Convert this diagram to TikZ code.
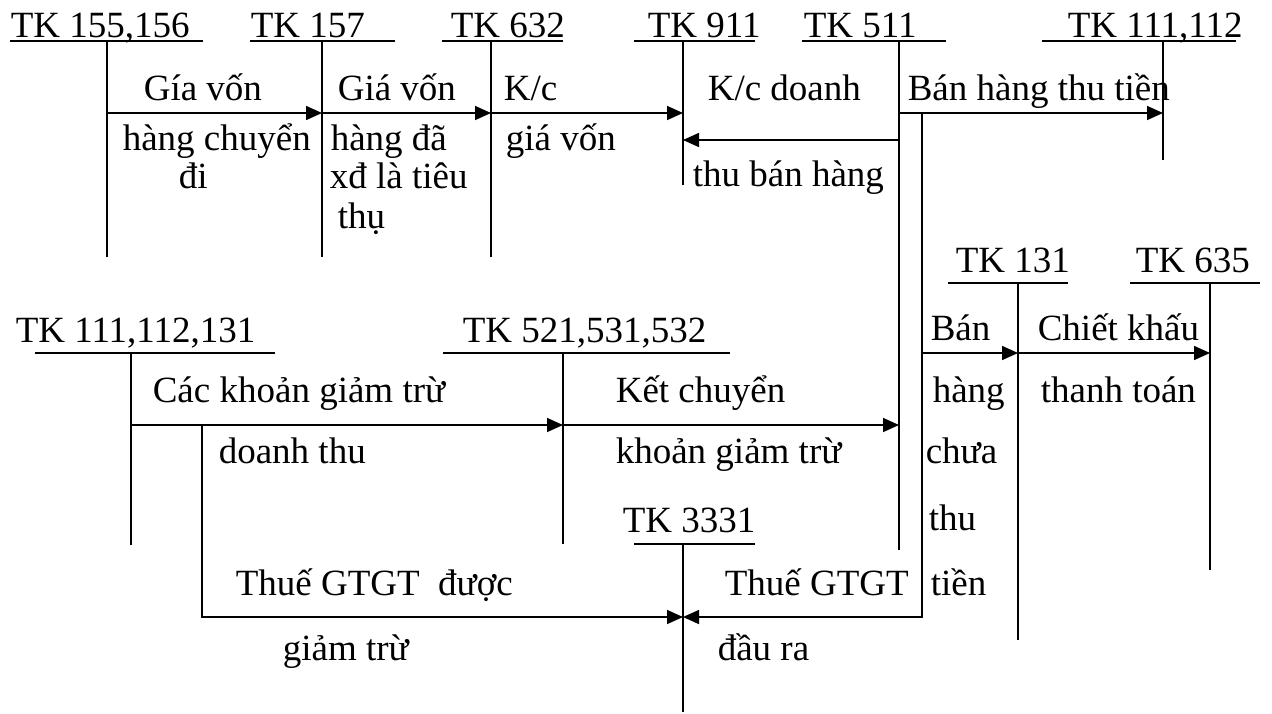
\documentclass[tikz,border=0pt]{standalone}
\usepackage{fontspec}
\setmainfont{Liberation Serif}
\usetikzlibrary{arrows.meta}

\begin{document}
\begin{tikzpicture}[x=0.5pt,y=-0.5pt,line width=0.8pt,
  lbl/.style={anchor=base west,inner sep=0pt,font=\fontsize{18.5}{20}\selectfont},
  flow/.style={-{Triangle[length=8pt,width=7pt]}}]

\useasboundingbox (0,0) rectangle (1272,713);

% Account titles (top row)
\node[lbl] (tk155) at (10,37) {TK 155,156};
\node[lbl] (tk157) at (250,37) {TK 157};
\node[lbl] (tk632) at (450,37) {TK 632};
\node[lbl] (tk911) at (647,37) {TK 911};
\node[lbl] (tk511) at (803,37) {TK 511};
\node[lbl] (tk111) at (1067,37) {TK 111,112};

% Account titles (lower rows)
\node[lbl] (tk131) at (955,272) {TK 131};
\node[lbl] (tk635) at (1135,272) {TK 635};
\node[lbl] (tkgt) at (15,342) {TK 111,112,131};
\node[lbl] (tk521) at (462,342) {TK 521,531,532};
\node[lbl] (tk3331) at (622,532) {TK 3331};

% T accounts: underline and vertical
\draw (10,41) -- (203,41);    \draw (107,41) -- (107,257);
\draw (250,41) -- (395,41);   \draw (322,41) -- (322,257);
\draw (442,41) -- (563,41);   \draw (491,41) -- (491,257);
\draw (634,41) -- (755,41);   \draw (683,41) -- (683,185);
\draw (802,41) -- (946,41);   \draw (899,41) -- (899,550);
\draw (1042,41) -- (1236,41); \draw (1163,41) -- (1163,160);
\draw (948,283) -- (1068,283);  \draw (1018,283) -- (1018,640);
\draw (1130,283) -- (1260,283); \draw (1210,283) -- (1210,570);
\draw (35,353) -- (275,353);  \draw (131,353) -- (131,545);
\draw (443,353) -- (730,353); \draw (563,353) -- (563,544);
\draw (634,544) -- (755,544); \draw (683,544) -- (683,712);

% Arrow end points
\coordinate (c155) at (107,113);
\coordinate (c157) at (322,113);
\coordinate (c632) at (491,113);
\coordinate (c911) at (683,113);
\coordinate (d911) at (683,140);
\coordinate (d511) at (899,140);
\coordinate (c511) at (899,113);
\coordinate (c111) at (1163,113);
\coordinate (s511) at (922,113);
\coordinate (b511) at (922,353);
\coordinate (c131) at (1018,353);
\coordinate (c635) at (1210,353);
\coordinate (cgt) at (131,425);
\coordinate (bgt) at (202,425);
\coordinate (c521) at (563,425);
\coordinate (e511) at (899,425);
\coordinate (c3331) at (683,617);

% Flows
\draw[flow] (c155) -- (c157);
\draw[flow] (c157) -- (c632);
\draw[flow] (c632) -- (c911);
\draw[flow] (d511) -- (d911);
\draw[flow] (c511) -- (c111);
\draw (s511) -- (b511);
\draw[flow] (b511) -- (c131);
\draw[flow] (c131) -- (c635);
\draw[flow] (b511) |- (c3331);
\draw[flow] (cgt) -- (c521);
\draw[flow] (c521) -- (e511);
\draw[flow] (bgt) |- (c3331);

% Labels
\node[lbl] (l1a) at (143,100) {Gía vốn};
\node[lbl] (l1b) at (122,150) {hàng chuyển};
\node[lbl] (l1c) at (178,188) {đi};
\node[lbl] (l2a) at (337,100) {Giá vốn};
\node[lbl] (l2b) at (330,150) {hàng đã};
\node[lbl] (l2c) at (329,188) {xđ là tiêu};
\node[lbl] (l2d) at (337,228) {thụ};
\node[lbl] (l3a) at (503,100) {K/c};
\node[lbl] (l3b) at (505,150) {giá vốn};
\node[lbl] (l4a) at (707,100) {K/c doanh};
\node[lbl] (l4b) at (692,186) {thu bán hàng};
\node[lbl] (l5) at (907,100) {Bán hàng thu tiền};
\node[lbl] (l6a) at (152,402) {Các khoản giảm trừ};
\node[lbl] (l6b) at (218,463) {doanh thu};
\node[lbl] (l7a) at (615,402) {Kết chuyển};
\node[lbl] (l7b) at (615,463) {khoản giảm trừ};
\node[lbl] (l8a) at (235,595) {Thuế GTGT\ \ được};
\node[lbl] (l8b) at (282,660) {giảm trừ};
\node[lbl] (l9a) at (724,595) {Thuế GTGT};
\node[lbl] (l9b) at (717,660) {đầu ra};
\node[lbl] (l10a) at (930,340) {Bán};
\node[lbl] (l10b) at (932,402) {hàng};
\node[lbl] (l10c) at (925,463) {chưa};
\node[lbl] (l10d) at (928,530) {thu};
\node[lbl] (l10e) at (930,595) {tiền};
\node[lbl] (l11a) at (1037,340) {Chiết khấu};
\node[lbl] (l11b) at (1040,402) {thanh toán};

\end{tikzpicture}
\end{document}
